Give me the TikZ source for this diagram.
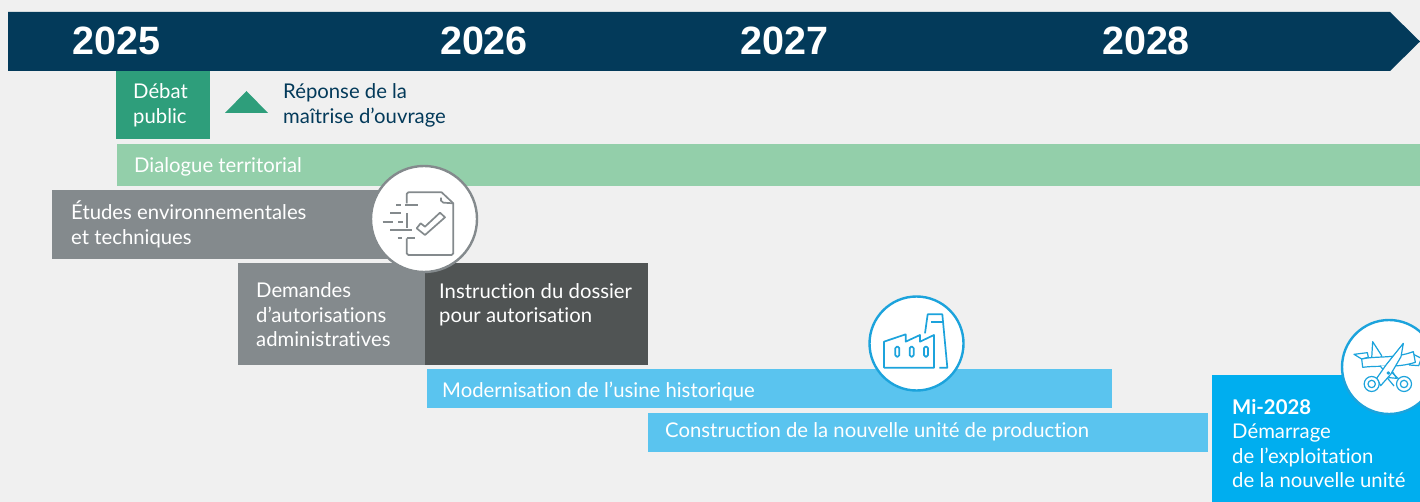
\documentclass[tikz,border=0pt]{standalone}
\usepackage{fontspec}
\setmainfont{Lato}[Ligatures=NoCommon]
\newfontfamily\yearfont{Liberation Sans}
\definecolor{bgc}{HTML}{F0F0F0}
\definecolor{navy}{HTML}{033A5A}
\definecolor{gdark}{HTML}{2E9E7B}
\definecolor{glight}{HTML}{93CFAA}
\definecolor{gris}{HTML}{848A8D}
\definecolor{grisd}{HTML}{505454}
\definecolor{blight}{HTML}{5AC4EF}
\definecolor{bcyan}{HTML}{00AEEF}
\definecolor{iconb}{HTML}{1CA3DC}
\tikzset{
  lbl/.style={anchor=west,inner sep=0pt,text=white,align=left,font=\fontsize{20.3}{24.5}\selectfont},
  year/.style={anchor=center,inner sep=0pt,text=white,font=\fontsize{39.5}{40}\yearfont\bfseries},
  iconbg/.style={fill=white,line width=2.4pt},
  icon/.style={line width=1.7pt,line join=round},
}
\begin{document}
\begin{tikzpicture}[x=1pt,y=-1pt]
\clip (0,0) rectangle (1420,502);
\fill[bgc] (0,0) rectangle (1420,502);
% header
\fill[navy] (8,12) -- (1390,12) -- (1420,41.5) -- (1390,71) -- (8,71) -- cycle;
\node[year] (y25) at (116.5,41) {2025};
\node[year] (y26) at (484,41) {2026};
\node[year] (y27) at (784.5,41) {2027};
\node[year] (y28) at (1146,41) {2028};
% bars
\fill[gdark] (116,71) rectangle (210,139);
\node[lbl] (debat) at (133,105.5) {Débat\\public};
\fill[gdark] (225,113) -- (268,113) -- (246.5,91) -- cycle;
\node[lbl,text=navy] (reponse) at (283,105.5) {Réponse de la\\maîtrise d’ouvrage};
\fill[glight] (117,144) rectangle (1420,186);
\node[lbl] (dialogue) at (134,167) {Dialogue territorial};
\fill[gris] (52,190) rectangle (400,259);
\node[lbl] (etudes) at (71,224.5) {Études environnementales\\et techniques};
\fill[gris] (238,263) rectangle (425,365);
\node[lbl] (demandes) at (256,315) {Demandes\\d’autorisations\\administratives};
\fill[grisd] (425,263) rectangle (648,365);
\node[lbl,anchor=north west] (instruction) at (439,283) {Instruction du dossier\\pour autorisation};
\fill[blight] (427,369) rectangle (1112,408);
\node[lbl] (moder) at (442,391) {Modernisation de l’usine historique};
\fill[blight] (648,413) rectangle (1208,452);
\node[lbl] (constr) at (665,432) {Construction de la nouvelle unité de production};
\fill[bcyan] (1212,375) rectangle (1420,502);
\node[lbl,anchor=north west] (mi) at (1232,399) {\textbf{Mi-2028}\\Démarrage\\de l’exploitation\\de la nouvelle unité};
% icon doc
\draw[iconbg,draw=gris] (424,219) circle (53);
\begin{scope}[shift={(360,160)},x=0.3333pt,y=-0.3333pt,draw=gris,icon]
\draw (140,130) -- (140,102) -- (145,97) -- (245,97) -- (280,130) -- (280,280) -- (275,285) -- (145,285) -- (140,280) -- (140,235);
\draw (243,113) -- (243,122) -- (250,128) -- (280,130);
\draw (170,205) -- (195,225) -- (255,172) -- (240,158) -- (195,200) -- (182,190) -- cycle;
\draw (108,135) -- (122,135) (135,135) -- (175,135) (90,160) -- (122,160) (68,185) -- (100,185) (115,185) -- (130,185) (90,210) -- (155,210) (113,235) -- (125,235) (140,235) -- (165,235);
\draw (140,160) -- (140,205);
\end{scope}
% icon factory
\draw[iconbg,draw=iconb] (916.5,343.5) circle (47);
\begin{scope}[shift={(860,290)},x=0.3333pt,y=-0.3333pt,draw=iconb,icon]
\draw (72,233) -- (72,155) -- (137,133) -- (137,155) -- (180,135) -- (180,155) -- (222,135) -- (222,233) -- cycle;
\draw (195,130) -- (203,73) -- (247,73) -- (262,233) -- (238,233);
\draw (213,97) -- (250,97);
\foreach \cx in {112,155,198}
  \draw[rounded corners=1.5pt] (\cx-6,170) rectangle (\cx+6,200);
\end{scope}
% icon scissors
\draw[iconbg,draw=iconb] (1389,367) circle (47);
\begin{scope}[shift={(1330,315)},x=0.3333pt,y=-0.3333pt,draw=iconb,line width=1.2pt,line join=round]
% ribbon tails
\draw[fill=white] (95,132) -- (72,118) -- (112,113) -- (115,127) -- cycle;
\draw[fill=white] (250,118) -- (274,130) -- (266,152) -- (238,150) -- cycle;
% back blade
\draw[fill=white] (128,80) -- (155,122) -- (150,135) -- (125,130) -- cycle;
% ribbon
\draw[fill=white] (95,132) .. controls (140,122) and (190,132) .. (250,110) -- (256,142) .. controls (200,160) and (150,150) .. (98,157) -- cycle;
% back handle
\draw[fill=white] (150,152) -- (178,188) -- (200,190) -- (178,155);
\draw (178,165) -- (206,192);
\draw (163,178) -- (192,213);
% front blade and handle
\draw[fill=white] (220,85) -- (213,125) -- (182,178) -- (152,212) -- (140,190) -- (168,150) -- cycle;
\draw[fill=white] (125,207) circle (7.5pt);
\draw (125,207) circle (3.7pt);
\draw[fill=white] (222,207) circle (7.5pt);
\draw (222,207) circle (3.7pt);
\draw (175,174) circle (1.2pt);
\end{scope}
\end{tikzpicture}
\end{document}
